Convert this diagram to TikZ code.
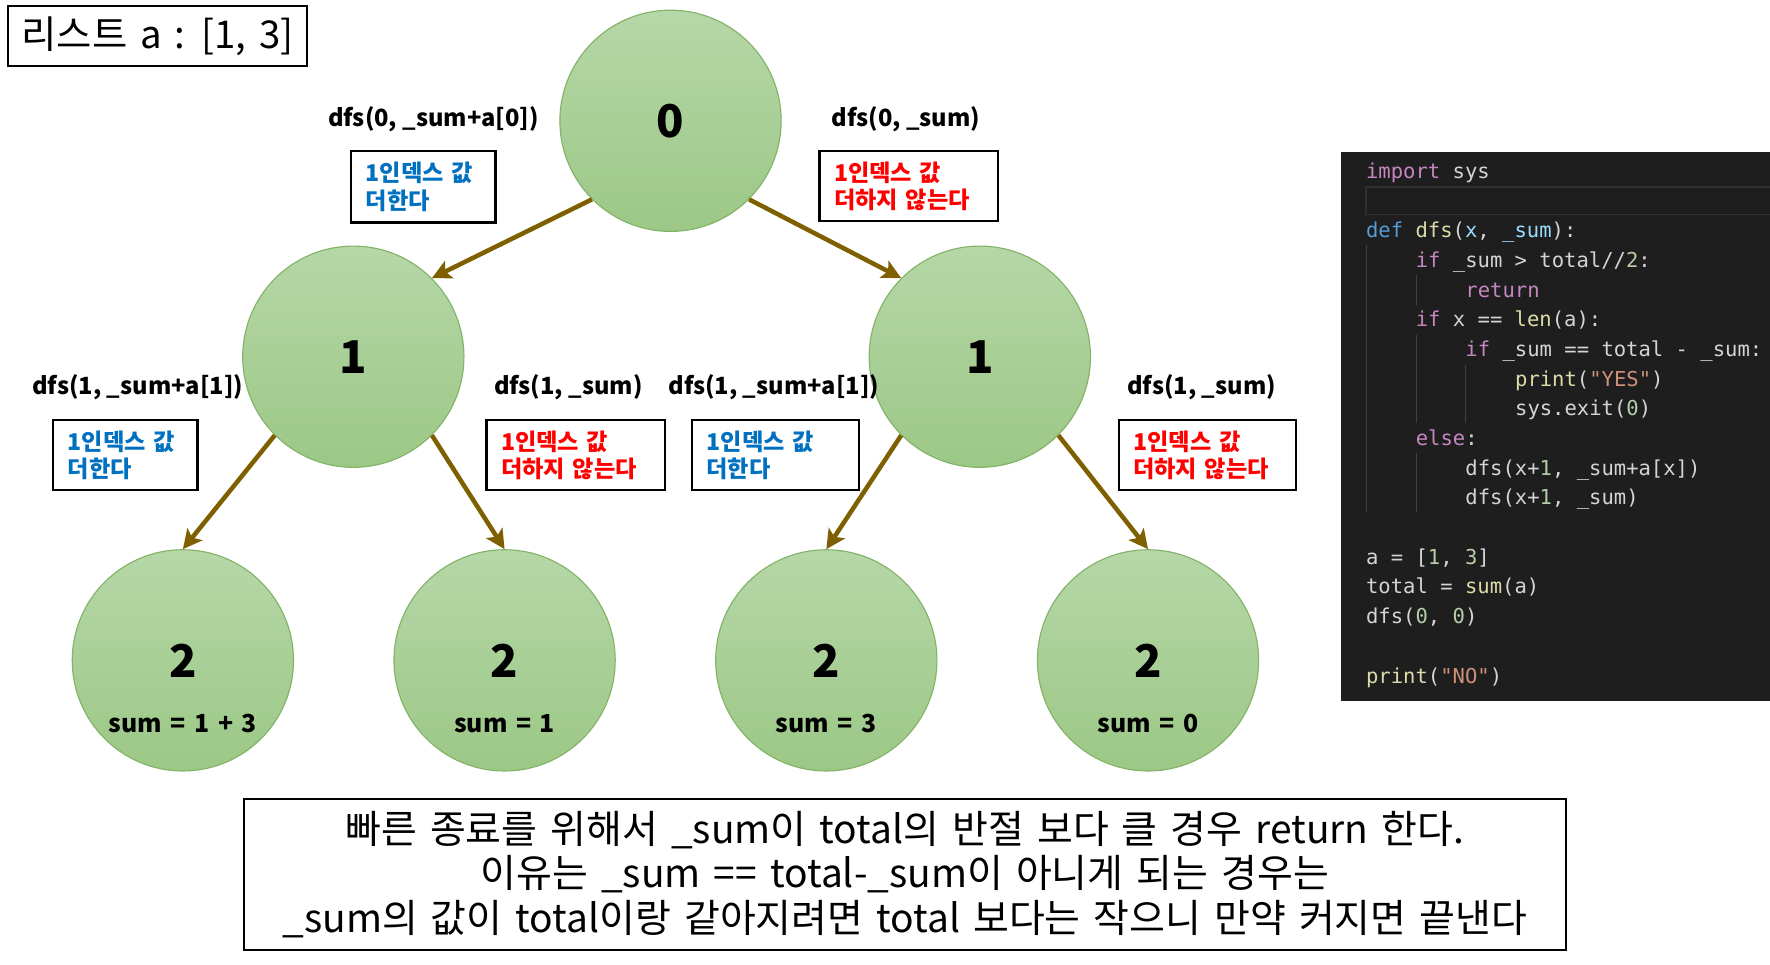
\documentclass[tikz,border=0pt]{standalone}
\usepackage{fontspec}
\setmainfont{Noto Sans CJK KR}
\newfontfamily\notefont{Noto Sans CJK KR}[WordSpace=1.5]
\newfontfamily\codefont{DejaVu Sans Mono}
\usetikzlibrary{arrows.meta}
\definecolor{nodetop}{HTML}{B6D7A8}
\definecolor{nodebot}{HTML}{9CC886}
\definecolor{nodeborder}{HTML}{82B366}
\definecolor{arrowc}{HTML}{7F6000}
\definecolor{bluet}{HTML}{0070C0}
\definecolor{redt}{HTML}{FF0000}
\definecolor{codebg}{HTML}{1E1E1E}
\definecolor{codehl}{HTML}{303030}
\definecolor{codeguide}{HTML}{404040}
\definecolor{ckw}{HTML}{C586C0}
\definecolor{cdef}{HTML}{569CD6}
\definecolor{cfn}{HTML}{DCDCAA}
\definecolor{cvar}{HTML}{9CDCFE}
\definecolor{ctxt}{HTML}{D4D4D4}
\definecolor{cnum}{HTML}{B5CEA8}
\definecolor{cstr}{HTML}{CE9178}
\newcommand\codekw[1]{\textcolor{ckw}{#1}}
\newcommand\codedef[1]{\textcolor{cdef}{#1}}
\newcommand\codefn[1]{\textcolor{cfn}{#1}}
\newcommand\codevar[1]{\textcolor{cvar}{#1}}
\newcommand\codenum[1]{\textcolor{cnum}{#1}}
\newcommand\codestr[1]{\textcolor{cstr}{#1}}
\tikzset{
  tnode/.style={circle, minimum size=196pt, inner sep=0pt, draw=nodeborder, line width=1pt,
    top color=nodetop, bottom color=nodebot, font=\fontsize{40}{40}\selectfont\bfseries},
  sumlab/.style={font=\notefont\fontsize{22}{22}\selectfont\bfseries, inner sep=0pt},
  arr/.style={draw=arrowc, line width=4pt, -{Stealth[length=17pt,width=17pt,inset=4pt]}},
  dfslab/.style={font=\fontsize{21}{21}\selectfont\bfseries, inner sep=0pt},
  bluebox/.style={draw=black, line width=2pt, align=left, inner xsep=13pt, inner ysep=0pt,
    text=bluet, font=\fontsize{20.5}{24}\selectfont\bfseries},
  redbox/.style={bluebox, text=redt},
  codeline/.style={anchor=base west, inner sep=0pt, text=ctxt, font=\codefont\fontsize{18.2}{18.2}\selectfont},
  guide/.style={draw=codeguide, line width=1pt},
}
\begin{document}
\begin{tikzpicture}[x=1pt,y=-1pt]
\useasboundingbox (0,0) rectangle (1568,854);
\fill[white] (0,0) rectangle (1568,854);

% title
\node[draw=black, line width=2pt, minimum width=265pt, minimum height=53pt, inner sep=0pt,
  font=\notefont\fontsize{34}{34}\selectfont] (title) at (139.5,32) {리스트 a : [1, 3]};

% tree nodes
\node[tnode] (n0) at (594,107) {0};
\node[tnode] (n1a) at (313,316) {1};
\node[tnode] (n1b) at (868,316) {1};
\node[tnode] (n2a) at (162,585) {2};
\node[tnode] (n2b) at (447,585) {2};
\node[tnode] (n2c) at (732,585) {2};
\node[tnode] (n2d) at (1017,585) {2};
\node[sumlab] (s2a) at (162,641) {sum = 1 + 3};
\node[sumlab] (s2b) at (447,641) {sum = 1};
\node[sumlab] (s2c) at (732,641) {sum = 3};
\node[sumlab] (s2d) at (1017,641) {sum = 0};

% arrows
\draw[arr] (n0.225) -- (n1a.45);
\draw[arr] (n0.315) -- (n1b.135);
\draw[arr] (n1a.225) -- (n2a.north);
\draw[arr] (n1a.315) -- (n2b.north);
\draw[arr] (n1b.225) -- (n2c.north);
\draw[arr] (n1b.315) -- (n2d.north);

% dfs labels
\node[dfslab] (l0a) at (384,106) {dfs(0, \_sum+a[0])};
\node[dfslab] (l0b) at (802.5,106) {dfs(0, \_sum)};
\node[dfslab] (l1a) at (122,343) {dfs(1, \_sum+a[1])};
\node[dfslab] (l1b) at (503.5,343) {dfs(1, \_sum)};
\node[dfslab] (l1c) at (685.5,343) {dfs(1, \_sum+a[1])};
\node[dfslab] (l1d) at (1064.5,343) {dfs(1, \_sum)};

% boxes
\node[bluebox, text width=102pt, minimum height=63pt] (b0a) at (375,165.5) {1인덱스 값\\더한다};
\node[redbox, text width=132pt, minimum height=62pt] (b0b) at (805,165) {1인덱스 값\\더하지 않는다};
\node[bluebox, text width=102pt, minimum height=62pt] (b1a) at (111,403) {1인덱스 값\\더한다};
\node[redbox, text width=132pt, minimum height=62pt] (b1b) at (510,403) {1인덱스 값\\더하지 않는다};
\node[bluebox, text width=122pt, minimum height=62pt] (b1c) at (687,403) {1인덱스 값\\더한다};
\node[redbox, text width=131pt, minimum height=62pt] (b1d) at (1069.5,403) {1인덱스 값\\더하지 않는다};

% code panel
\fill[codebg] (1188,135) rectangle (1568,621);
\draw[codehl, line width=1.2pt] (1210,165.5) rectangle (1570,190);
\draw[guide] (1210.5,217) -- (1210.5,454);
\draw[guide] (1254.5,244) -- (1254.5,270);
\draw[guide] (1254.5,297) -- (1254.5,375);
\draw[guide] (1254.5,401) -- (1254.5,454);
\draw[guide] (1298.5,323) -- (1298.5,375);

\node[codeline] (c0) at (1210,158) {\codekw{import} sys};
\node[codeline] (c2) at (1210,210.6) {\codedef{def} \codefn{dfs}(\codevar{x}, \codevar{\_sum}):};
\node[codeline] (c3) at (1254,236.9) {\codekw{if} \_sum > total//\codenum{2}:};
\node[codeline] (c4) at (1298,263.2) {\codekw{return}};
\node[codeline] (c5) at (1254,289.5) {\codekw{if} x == \codefn{len}(a):};
\node[codeline] (c6) at (1298,315.8) {\codekw{if} \_sum == total - \_sum:};
\node[codeline] (c7) at (1342,342.1) {\codefn{print}(\codestr{"YES"})};
\node[codeline] (c8) at (1342,368.4) {sys.exit(\codenum{0})};
\node[codeline] (c9) at (1254,394.7) {\codekw{else}:};
\node[codeline] (c10) at (1298,421) {dfs(x+\codenum{1}, \_sum+a[x])};
\node[codeline] (c11) at (1298,447.3) {dfs(x+\codenum{1}, \_sum)};
\node[codeline] (c13) at (1210,499.9) {a = [\codenum{1}, \codenum{3}]};
\node[codeline] (c14) at (1210,526.2) {total = \codefn{sum}(a)};
\node[codeline] (c15) at (1210,552.5) {dfs(\codenum{0}, \codenum{0})};
\node[codeline] (c17) at (1210,605.1) {\codefn{print}(\codestr{"NO"})};

% bottom note
\node[draw=black, line width=2pt, minimum width=1171pt, minimum height=134pt, inner sep=0pt,
  align=center, font=\notefont\fontsize{34.5}{39.5}\selectfont] (note) at (801.5,774.5)
  {빠른 종료를 위해서 \_sum이 total의 반절 보다 클 경우 return 한다.\\
   이유는 \_sum == total-\_sum이 아니게 되는 경우는\\
   \_sum의 값이 total이랑 같아지려면 total 보다는 작으니 만약 커지면 끝낸다};
\end{tikzpicture}
\end{document}
